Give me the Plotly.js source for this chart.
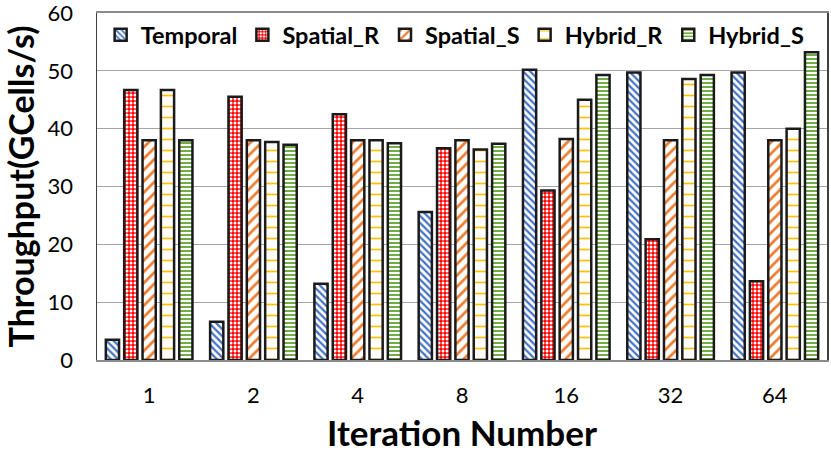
<!DOCTYPE html>
<html>
<head>
<meta charset="utf-8">
<script src="https://cdn.plot.ly/plotly-3.0.1.min.js"></script>
<style>
  html, body { margin: 0; padding: 0; background: #fff; }
  #chart { width: 831px; height: 463px; }
</style>
</head>
<body>
<div id="chart"></div>
<script>
// iteration counts on the x axis
var iterations = ['1', '2', '4', '8', '16', '32', '64'];

// throughput in GCells/s
var temporal  = [3.5, 6.6, 13.2, 25.6, 50.2, 49.7, 49.7];
var spatialR  = [46.7, 45.5, 42.5, 36.6, 29.3, 20.9, 13.6];
var spatialS  = [38.0, 38.0, 38.0, 38.0, 38.2, 38.0, 38.0];
var hybridR   = [46.7, 37.7, 38.0, 36.4, 45.0, 48.6, 40.0];
var hybridS   = [38.0, 37.2, 37.5, 37.4, 49.3, 49.3, 53.2];

var yTicks = [0, 10, 20, 30, 40, 50, 60];

function series(name, values, pattern) {
  return {
    x: iterations,
    y: values,
    type: 'bar',
    name: name,
    marker: {
      color: 'white',
      line: { color: '#1a1a1a', width: 2.5 },
      pattern: pattern
    }
  };
}

var data = [
  series('Temporal', temporal, { shape: '\\', fgcolor: '#4472C4', bgcolor: 'white', size: 5, solidity: 0.45 }),
  series('Spatial_R', spatialR, { shape: '.', fgcolor: 'white', bgcolor: '#FF0000', size: 4, solidity: 0.45 }),
  series('Spatial_S', spatialS, { shape: '/', fgcolor: '#ED7D31', bgcolor: 'white', size: 8, solidity: 0.35 }),
  series('Hybrid_R', hybridR, { shape: '-', fgcolor: '#FFC000', bgcolor: 'white', size: 11, solidity: 0.15 }),
  series('Hybrid_S', hybridS, { shape: '-', fgcolor: '#70AD47', bgcolor: 'white', size: 4, solidity: 0.5 })
];

var layout = {
  width: 831,
  height: 463,
  margin: { l: 97, r: 4, t: 13, b: 103 },
  paper_bgcolor: 'white',
  plot_bgcolor: 'white',
  font: { family: 'Lato, "Open Sans", sans-serif', color: '#000' },
  barmode: 'group',
  bargap: 0.12,
  bargroupgap: 0.28,
  showlegend: true,
  legend: {
    orientation: 'h',
    x: 0.005,
    y: 1.0,
    xanchor: 'left',
    yanchor: 'top',
    bgcolor: 'rgba(0,0,0,0)',
    font: { size: 23.5, family: 'Lato, sans-serif', weight: 'bold' },
    itemwidth: 30,
    tracegroupgap: 0
  },
  xaxis: {
    type: 'category',
    showgrid: false,
    showline: true,
    linecolor: '#8c8c8c',
    linewidth: 2,
    mirror: true,
    ticks: '',
    ticklabelstandoff: 15,
    tickfont: { size: 22 },
    title: { text: 'Iteration Number', font: { size: 35, weight: 'bold' }, standoff: 14 }
  },
  yaxis: {
    range: [0, 60],
    tickvals: yTicks,
    showgrid: true,
    gridcolor: '#a6a6a6',
    gridwidth: 1.2,
    showline: true,
    linecolor: '#404040',
    linewidth: 1.5,
    mirror: true,
    ticks: '',
    ticklabelstandoff: 18,
    ticklabeloverflow: 'allow',
    tickfont: { size: 22 },
    zeroline: false,
    title: { text: 'Throughput(GCells/s)', font: { size: 34, weight: 'bold' }, standoff: 4 }
  }
};

var config = { staticPlot: true, displayModeBar: false };
Plotly.newPlot('chart', data, layout, config);
</script>
</body>
</html>
